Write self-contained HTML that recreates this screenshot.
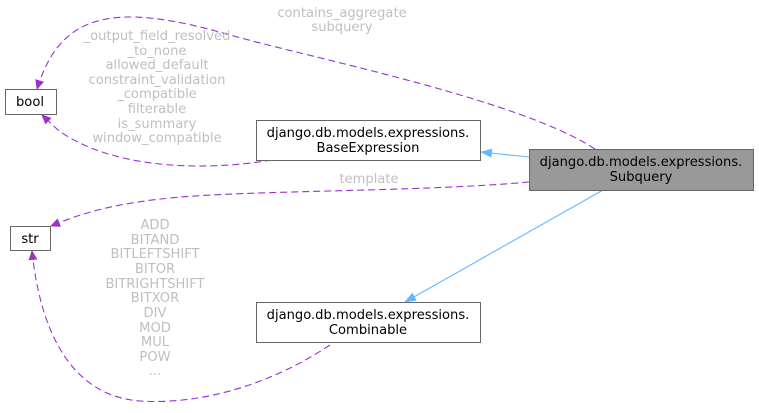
<!DOCTYPE html>
<html><head><meta charset="utf-8"><style>
html,body{margin:0;padding:0;background:#fff;}
svg text{font-family:"DejaVu Sans","Liberation Sans",sans-serif;font-size:13.1px;}
</style></head><body>
<svg width="759" height="408" viewBox="0 0 759 408" xmlns="http://www.w3.org/2000/svg">
<defs>
<marker id="ap" markerWidth="10" markerHeight="10" refX="9" refY="5" orient="auto" markerUnits="userSpaceOnUse"><path d="M0,0.5 L10,5 L0,9.5z" fill="#9a32cd"/></marker>
<marker id="ab" markerWidth="12" markerHeight="10" refX="11" refY="5" orient="auto" markerUnits="userSpaceOnUse"><path d="M0,0.5 L12,5 L0,9.5z" fill="#63b8ff"/></marker>
</defs>
<g fill="none" stroke="#9a32cd" stroke-dasharray="7,4" stroke-width="1.1">
<path d="M595,149 C520,100 320,60 230,35 C110,0 60,15 37,89" marker-end="url(#ap)"/>
<path d="M272,160 C200,172 110,168 58,130 L42,115" marker-end="url(#ap)"/>
<path d="M529,182 C420,192 250,190 170,198 C110,204 80,214 51,226" marker-end="url(#ap)"/>
<path d="M330,345 C270,385 200,405 140,401 C60,395 38,310 32,251" marker-end="url(#ap)"/>
</g>
<g fill="none" stroke="#63b8ff" stroke-width="1.1">
<path d="M529,157 L481,152" marker-end="url(#ab)"/>
<path d="M603,190 L405,302" marker-end="url(#ab)"/>
</g>
<g stroke-width="1">
<rect x="5.5" y="89.5" width="51" height="25" fill="#fff" stroke="#666"/>
<rect x="10.5" y="226.5" width="40" height="24" fill="#fff" stroke="#666"/>
<rect x="256.5" y="120.5" width="224" height="40" fill="#fff" stroke="#666"/>
<rect x="256.5" y="302.5" width="224" height="40" fill="#fff" stroke="#666"/>
<rect x="529.5" y="149.5" width="224" height="41" fill="#999" stroke="#666"/>
</g>
<g fill="#000" text-anchor="middle">
<text x="30" y="106">bool</text>
<text x="30" y="243">str</text>
<text x="368" y="137">django.db.models.expressions.</text>
<text x="368" y="152">BaseExpression</text>
<text x="368" y="319">django.db.models.expressions.</text>
<text x="368" y="334">Combinable</text>
<text x="641" y="166">django.db.models.expressions.</text>
<text x="641" y="181">Subquery</text>
</g>
<g fill="#bfbfbf" text-anchor="middle">
<text x="342" y="17">contains_aggregate</text>
<text x="342" y="31">subquery</text>
<text x="157" y="40">_output_field_resolved</text>
<text x="157" y="55">_to_none</text>
<text x="157" y="69">allowed_default</text>
<text x="157" y="84">constraint_validation</text>
<text x="157" y="98">_compatible</text>
<text x="157" y="113">filterable</text>
<text x="157" y="128">is_summary</text>
<text x="157" y="142">window_compatible</text>
<text x="369" y="183">template</text>
<text x="155" y="229">ADD</text>
<text x="155" y="244">BITAND</text>
<text x="155" y="258">BITLEFTSHIFT</text>
<text x="155" y="273">BITOR</text>
<text x="155" y="288">BITRIGHTSHIFT</text>
<text x="155" y="302">BITXOR</text>
<text x="155" y="317">DIV</text>
<text x="155" y="332">MOD</text>
<text x="155" y="346">MUL</text>
<text x="155" y="361">POW</text>
<text x="155" y="375">...</text>
</g>
</svg>
</body></html>
